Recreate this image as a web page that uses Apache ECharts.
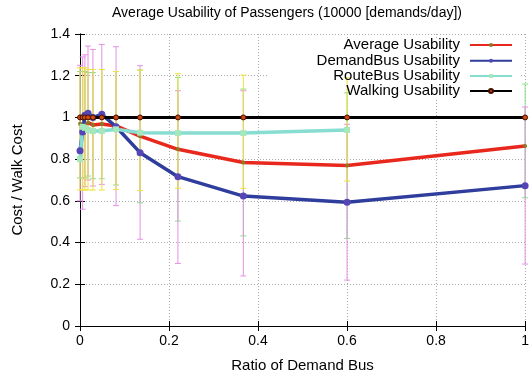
<!DOCTYPE html>
<html>
<head>
<meta charset="utf-8">
<script src="https://cdn.jsdelivr.net/npm/echarts@6/dist/echarts.min.js"></script>
<style>
html,body{margin:0;padding:0;background:#fff;}
#chartEle{width:532px;height:378px;}
</style>
</head>
<body>
<div id="chartEle"></div>
<script>
// ratio of demand bus (x)
var ratioData = [0, 0.006, 0.011, 0.018, 0.029, 0.049, 0.081, 0.135, 0.22, 0.367, 0.6, 1.0];

var averageData = [0.97, 0.96, 0.96, 0.975, 0.964, 0.968, 0.959, 0.91, 0.847, 0.784, 0.769, 0.863];
var averageLow  = [0.71, 0.71, 0.71, 0.719, 0.706, 0.706, 0.676, 0.591, 0.503, 0.432, 0.42, 0.615];
var averageHigh = [1.22, 1.22, 1.22, 1.215, 1.215, 1.23, 1.22, 1.227, 1.192, 1.136, 1.118, 1.16];

var demandData = [0.84, 0.93, 1.01, 1.02, 1.0, 1.015, 0.955, 0.831, 0.716, 0.623, 0.593, 0.673];
var demandLow  = [0.6, 0.56, 0.668, 0.70, 0.671, 0.679, 0.577, 0.416, 0.30, 0.24, 0.22, 0.297];
var demandHigh = [1.25, 1.29, 1.30, 1.342, 1.326, 1.35, 1.339, 1.248, 1.128, 1.128, 0.967, 1.05];

var routeData = [0.8, 0.955, 0.95, 0.94, 0.935, 0.935, 0.943, 0.927, 0.925, 0.925, 0.94, null];
var routeLow  = [0.652, 0.652, 0.652, 0.652, 0.652, 0.652, 0.655, 0.649, 0.66, 0.66, 0.695, null];
var routeHigh = [1.238, 1.238, 1.238, 1.23, 1.23, 1.23, 1.22, 1.227, 1.21, 1.203, 1.19, null];

var walkingData = [1, 1, 1, 1, 1, 1, 1, 1, 1, 1, 1, 1];

var xTickLabels = ["0", "0.2", "0.4", "0.6", "0.8", "1"];
var legendNames = ["Average Usability", "DemandBus Usability", "RouteBus Usability", "Walking Usability"];

var fontName = "'Liberation Sans', Arial, Helvetica, sans-serif";

function pairs(values){
    var arr = [];
    ratioData.forEach(function(x, i){
        if (values[i] != null) arr.push([x, values[i]]);
    });
    return arr;
}

function errPairs(low, high){
    var arr = [];
    ratioData.forEach(function(x, i){
        if (low[i] != null && high[i] != null) arr.push([x, low[i], high[i]]);
    });
    return arr;
}

function errorBarSeries(name, color, data, z){
    return {
        name: name,
        type: 'custom',
        z: z,
        silent: true,
        data: data,
        encode: { x: 0, y: [1, 2] },
        renderItem: function(params, api){
            var x = api.value(0);
            var lo = api.coord([x, api.value(1)]);
            var hi = api.coord([x, api.value(2)]);
            var w = 3;
            var st = { stroke: color, lineWidth: 1 };
            return {
                type: 'group',
                children: [
                    { type: 'line', shape: { x1: lo[0], y1: lo[1], x2: hi[0], y2: hi[1] }, style: st },
                    { type: 'line', shape: { x1: lo[0] - w, y1: lo[1], x2: lo[0] + w, y2: lo[1] }, style: st },
                    { type: 'line', shape: { x1: hi[0] - w, y1: hi[1], x2: hi[0] + w, y2: hi[1] }, style: st }
                ]
            };
        }
    };
}

var myChart = echarts.init(document.getElementById('chartEle'));

var legendList = [];
var rowCenters = [45, 60.7, 76, 91];
legendNames.forEach(function(n, i){
    legendList.push({
        data: [n],
        right: 19,
        top: rowCenters[i] - 8,
        align: 'right',
        orient: 'vertical',
        padding: 0,
        itemWidth: 42,
        itemHeight: 5,
        selectedMode: false,
        z: 6,
        textStyle: { fontFamily: fontName, fontSize: 15, color: '#000', lineHeight: 16, padding: [0, 5, 0, 0] }
    });
});

var option = {
    animation: false,
    backgroundColor: '#fff',
    title: {
        text: 'Average Usability of Passengers (10000 [demands/day])',
        left: 282,
        textAlign: 'center',
        top: 1,
        textStyle: { fontFamily: fontName, fontSize: 14, fontWeight: 'normal', color: '#000' }
    },
    legend: legendList,
    graphic: [{
        type: 'rect',
        z: 1,
        shape: { x: 268, y: 40, width: 252, height: 59 },
        style: { fill: '#fff' }
    }],
    grid: { left: 80, right: 1, top: 34, bottom: 52 },
    xAxis: [{
        type: 'value',
        min: 0, max: 1, interval: 0.2,
        name: 'Ratio of Demand Bus',
        nameLocation: 'middle',
        nameGap: 32,
        nameTextStyle: { fontFamily: fontName, fontSize: 15, color: '#000' },
        axisLine: { lineStyle: { color: '#000', width: 1 } },
        axisTick: { inside: true, length: 5, lineStyle: { color: '#000' } },
        axisLabel: {
            margin: 8, fontFamily: fontName, fontSize: 14, color: '#000',
            formatter: function(v){ return xTickLabels[Math.round(v / 0.2)]; }
        },
        splitLine: { show: true, lineStyle: { color: '#aaa', type: [1, 2], width: 1 } }
    }, {
        type: 'value',
        position: 'top',
        min: 0, max: 1, interval: 0.2,
        axisLine: { show: true, lineStyle: { color: '#000', width: 1 } },
        axisTick: { show: true, inside: true, length: 5, lineStyle: { color: '#000' } },
        axisLabel: { show: false },
        splitLine: { show: false }
    }],
    yAxis: [{
        type: 'value',
        min: 0, max: 1.4, interval: 0.2,
        name: 'Cost / Walk Cost',
        nameLocation: 'middle',
        nameGap: 55,
        nameRotate: 90,
        nameTextStyle: { fontFamily: fontName, fontSize: 15, color: '#000' },
        axisLine: { show: true, lineStyle: { color: '#000', width: 1 } },
        axisTick: { show: true, inside: true, length: 5, lineStyle: { color: '#000' } },
        axisLabel: { margin: 10, fontFamily: fontName, fontSize: 14, color: '#000' },
        splitLine: { show: true, lineStyle: { color: '#aaa', type: [1, 2], width: 1 } }
    }, {
        type: 'value',
        position: 'right',
        min: 0, max: 1.4, interval: 0.2,
        axisLine: { show: true, lineStyle: { color: '#000', width: 1 } },
        axisTick: { show: true, inside: true, length: 5, lineStyle: { color: '#000' } },
        axisLabel: { show: false },
        splitLine: { show: false }
    }],
    series: [
        errorBarSeries('averageErr', '#86e086', errPairs(averageLow, averageHigh), 2),
        errorBarSeries('demandErr', '#e490e4', errPairs(demandLow, demandHigh), 2.1),
        errorBarSeries('routeErr', '#ece43c', errPairs(routeLow, routeHigh), 2.2),
        {
            name: 'Average Usability',
            type: 'line',
            z: 3,
            data: pairs(averageData),
            symbol: 'circle',
            symbolSize: 4,
            itemStyle: { color: '#8a7a22' },
            lineStyle: { color: '#e8281c', width: 3.5 }
        },
        {
            name: 'DemandBus Usability',
            type: 'line',
            z: 3,
            data: pairs(demandData),
            symbol: 'circle',
            symbolSize: 7,
            itemStyle: { color: '#5545b5' },
            lineStyle: { color: '#2f3d9c', width: 3.5 }
        },
        {
            name: 'RouteBus Usability',
            type: 'line',
            z: 3,
            data: pairs(routeData),
            symbol: 'rect',
            symbolSize: 6,
            itemStyle: { color: '#a6e8bc' },
            lineStyle: { color: '#86ddd0', width: 3.5 }
        },
        {
            name: 'Walking Usability',
            type: 'line',
            z: 4,
            data: pairs(walkingData),
            symbol: 'circle',
            symbolSize: 5,
            itemStyle: { color: '#d04a10', borderColor: '#401000', borderWidth: 1 },
            lineStyle: { color: '#000', width: 3 }
        }
    ]
};

myChart.setOption(option, true);
</script>
</body>
</html>
